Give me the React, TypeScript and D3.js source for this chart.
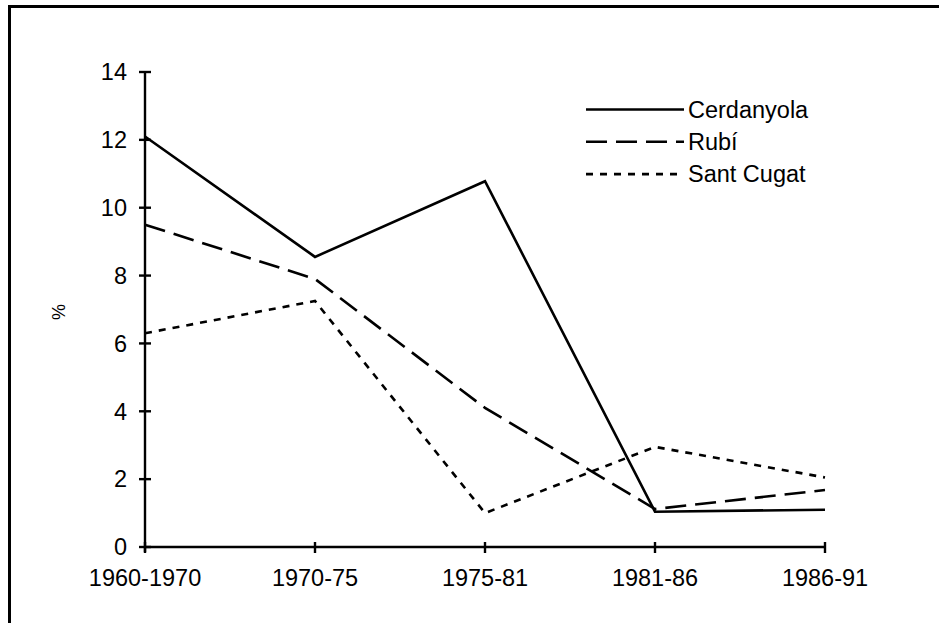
import React from 'react';
import * as d3 from 'd3';

const periods = ['1960-1970', '1970-75', '1975-81', '1981-86', '1986-91'];
const cerdanyola = [12.1, 8.55, 10.78, 1.04, 1.1];
const rubi = [9.5, 7.9, 4.1, 1.12, 1.68];
const santCugat = [6.3, 7.25, 1.0, 2.95, 2.05];
const yTicks = [0, 2, 4, 6, 8, 10, 12, 14];

const series = [
  { name: 'Cerdanyola', values: cerdanyola, dash: 'none' },
  { name: 'Rubí', values: rubi, dash: '21 9' },
  { name: 'Sant Cugat', values: santCugat, dash: '7 7' },
];

const width = 939;
const height = 623;
const font = '"Liberation Sans", Arial, sans-serif';
const fs = 23.5;

const App = () => {
  const xScale = d3.scalePoint().domain(periods).range([145, 825]);
  const yScale = d3.scaleLinear().domain([0, 14]).range([547, 72]);

  const line = d3
    .line<number>()
    .x((d, i) => xScale(periods[i]) as number)
    .y(d => yScale(d));

  return (
    <svg
      width={width}
      height={height}
      style={{ position: 'absolute', left: 0, top: 0, background: '#fff' }}
      fontFamily={font}
    >
      <rect x={9.5} y={6.5} width={960} height={640} fill="none" stroke="#000" strokeWidth={3} />

      {/* y axis */}
      <line x1={145} x2={145} y1={yScale(14)} y2={yScale(0) + 5} stroke="#000" strokeWidth={2.4} />
      {yTicks.map(t => (
        <g key={t} transform={`translate(0, ${yScale(t)})`}>
          <line x1={139} x2={151} stroke="#000" strokeWidth={2.4} />
          <text x={127} dy=".35em" textAnchor="end" fontSize={fs}>
            {t}
          </text>
        </g>
      ))}

      {/* x axis */}
      <line x1={145} x2={825} y1={yScale(0)} y2={yScale(0)} stroke="#000" strokeWidth={2.4} />
      {periods.map(p => (
        <g key={p} transform={`translate(${xScale(p)}, 0)`}>
          <line y1={yScale(0) - 5} y2={yScale(0) + 6} stroke="#000" strokeWidth={2.4} />
          <text y={586} textAnchor="middle" fontSize={fs}>
            {p}
          </text>
        </g>
      ))}

      <text transform="translate(59, 312) rotate(-90)" textAnchor="middle" dy=".35em" fontSize={18}>
        %
      </text>

      {series.map(s => (
        <path
          key={s.name}
          d={line(s.values) as string}
          fill="none"
          stroke="#000"
          strokeWidth={2.6}
          strokeDasharray={s.dash}
          strokeLinejoin="miter"
        />
      ))}

      {/* legend */}
      {series.map((s, i) => (
        <g key={s.name} transform={`translate(0, ${109.5 + i * 32.3})`}>
          <line x1={586} x2={684} stroke="#000" strokeWidth={2.6} strokeDasharray={s.dash} />
          <text x={688} dy=".35em" fontSize={fs}>
            {s.name}
          </text>
        </g>
      ))}
    </svg>
  );
};

export default App;
